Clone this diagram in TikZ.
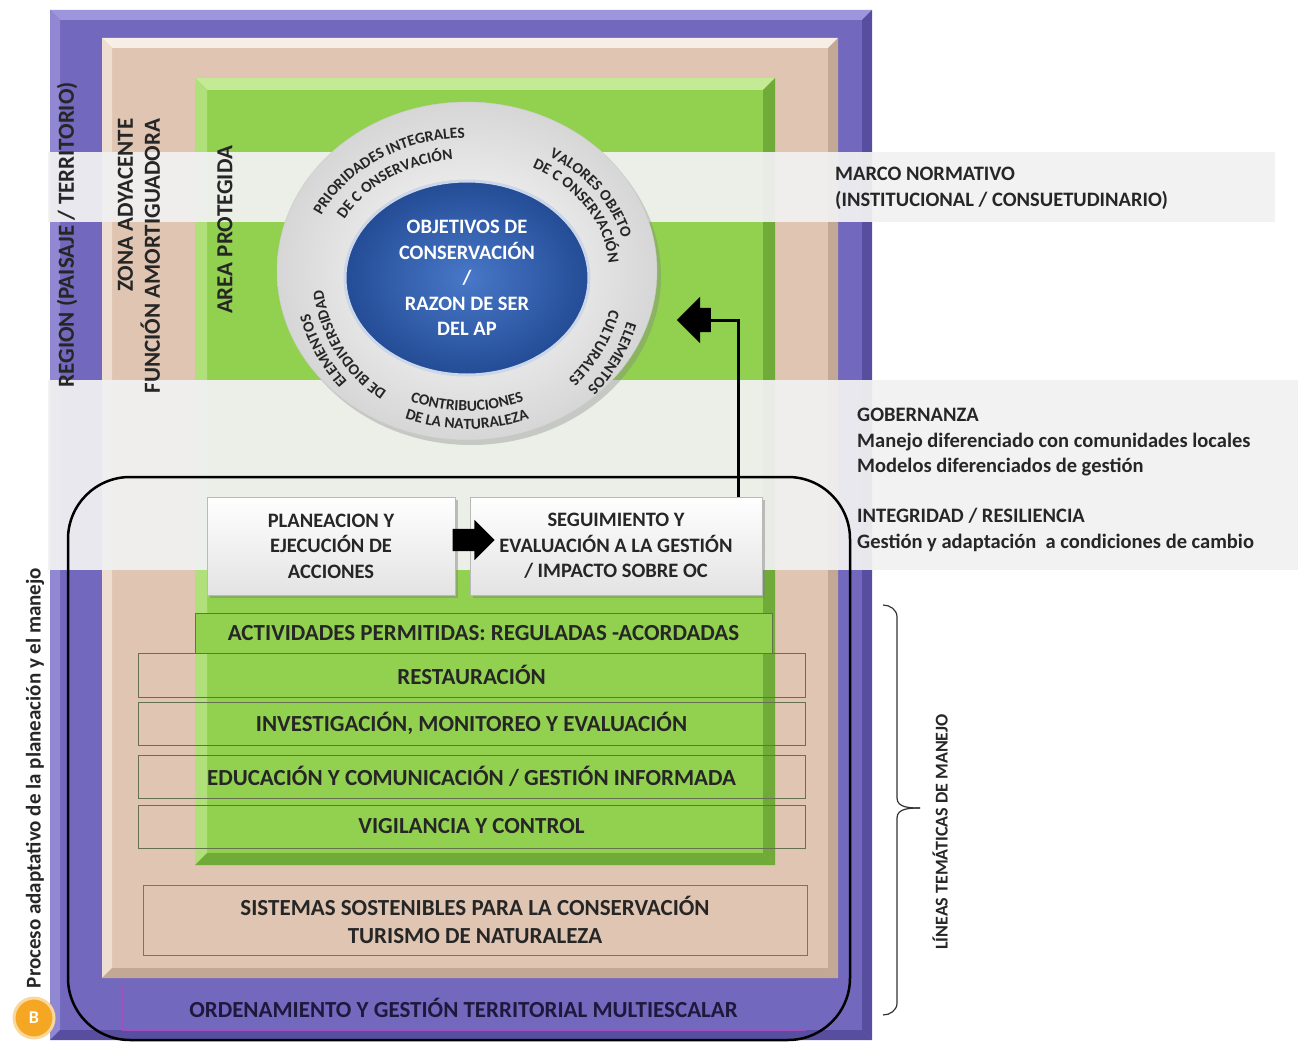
\documentclass[tikz,border=0pt]{standalone}
\usepackage{fontspec}
\setmainfont{Carlito}
\usepackage{tikz}
\usetikzlibrary{arrows.meta,positioning,shapes.geometric,shapes.arrows,shadows,decorations.text,calc}

\definecolor{apRegion}{RGB}{114,104,190}
\definecolor{apRegionLt}{RGB}{158,150,220}
\definecolor{apRegionDk}{RGB}{88,78,160}
\definecolor{apZona}{RGB}{223,197,178}
\definecolor{apZonaLt}{RGB}{247,238,230}
\definecolor{apZonaDk}{RGB}{196,168,150}
\definecolor{apGreen}{RGB}{146,208,80}
\definecolor{apGreenLt}{RGB}{196,234,150}
\definecolor{apGreenDk}{RGB}{112,170,56}
\definecolor{apBand}{RGB}{241,241,241}
\definecolor{apBlue}{RGB}{47,90,165}
\definecolor{apText}{RGB}{38,38,38}
\definecolor{apRowLine}{RGB}{100,112,78}
\definecolor{apPurpleLine}{RGB}{160,80,190}
\definecolor{apOrange}{RGB}{245,166,35}

\newcommand{\lblfont}{\fontsize{20.5}{25.5}\selectfont\bfseries}
\newcommand{\framefont}{\fontsize{23}{27}\selectfont\bfseries}
\newcommand{\rowfont}{\fontsize{23}{28}\selectfont\bfseries}
\newcommand{\ringfont}{\fontsize{15.5}{17}\selectfont\bfseries}
\newcommand{\procfont}{\fontsize{18}{20}\selectfont\bfseries}

% text on the ring: start angle, end angle, x radius, y radius, text
\newcommand{\ringtext}[5]{%
  \path[decorate, decoration={text along path, text align=center,
      text={|\ringfont\color{apText}|#5}}]
    (oc) ++(#1:#3 and #4) arc[start angle=#1, end angle=#2, x radius=#3, y radius=#4];}

\tikzset{
    bandfill/.style={fill=apBand, fill opacity=0.94},
    framelabel/.style={rotate=90, font=\framefont, text=apText, align=right, inner sep=0pt},
    sidetext/.style={font=\lblfont, text=apText, align=left, inner sep=0pt},
    stepbox/.style={draw=gray!55, line width=1pt, top color=white, bottom color=gray!22, minimum height=98pt, align=center, font=\lblfont, text=apText, drop shadow={shadow xshift=3pt, shadow yshift=-3pt, opacity=0.45}},
    themerow/.style={rectangle, draw=apRowLine, line width=0.8pt, font=\rowfont, text=apText, inner sep=0pt, align=center},
    blockarrow/.style={single arrow, fill=black, inner xsep=0pt, single arrow head indent=0pt},
    feedback/.style={line width=3pt, black},
    bracket/.style={line width=1.2pt, gray!40!black}
}

\begin{document}
\begin{tikzpicture}[x=1pt,y=1pt]
    \useasboundingbox (0,0) rectangle (1298,-1046);

    % Region frame
    \fill[apRegion] (50,-10) rectangle (872,-1040);
    \fill[apRegionLt] (50,-10) -- (872,-10) -- (862,-20) -- (60,-20) -- cycle;
    \fill[apRegionLt!70!apRegion] (50,-10) -- (60,-20) -- (60,-1030) -- (50,-1040) -- cycle;
    \fill[apRegionDk] (872,-10) -- (872,-1040) -- (862,-1030) -- (862,-20) -- cycle;
    \fill[apRegionDk] (50,-1040) -- (872,-1040) -- (862,-1030) -- (60,-1030) -- cycle;

    % Buffer zone frame
    \fill[apZona] (102,-38) rectangle (838,-978);
    \fill[apZonaLt] (102,-38) -- (838,-38) -- (828,-48) -- (112,-48) -- cycle;
    \fill[apZonaLt!60!apZona] (102,-38) -- (112,-48) -- (112,-968) -- (102,-978) -- cycle;
    \fill[apZonaDk] (838,-38) -- (838,-978) -- (828,-968) -- (828,-48) -- cycle;
    \fill[apZonaDk] (102,-978) -- (838,-978) -- (828,-968) -- (112,-968) -- cycle;

    % Protected area
    \fill[apGreen] (195,-78) rectangle (775,-865);
    \fill[apGreenLt] (195,-78) -- (775,-78) -- (763,-90) -- (207,-90) -- cycle;
    \fill[apGreenLt!60!apGreen] (195,-78) -- (207,-90) -- (207,-853) -- (195,-865) -- cycle;
    \fill[apGreenDk] (775,-78) -- (775,-865) -- (763,-853) -- (763,-90) -- cycle;
    \fill[apGreenDk] (195,-865) -- (775,-865) -- (763,-853) -- (207,-853) -- cycle;

    % Light bands
    \fill[bandfill] (48,-152) rectangle (1275,-222);
    \fill[bandfill] (48,-380) rectangle (1298,-570);

    % Frame labels
    \node[framelabel] (region) at (67,-235) {REGION (PAISAJE / TERRITORIO)};
    \node[framelabel] (zona) at (139,-256) {ZONA ADYACENTE\\FUNCIÓN AMORTIGUADORA};
    \node[framelabel] (area) at (225,-230) {AREA PROTEGIDA};

    % Ring and core
    \coordinate (oc) at (467,-271);
    \node[ellipse, minimum width=380, minimum height=338, inner color=white, outer color=gray!32, draw=gray!40, drop shadow={shadow xshift=4pt, shadow yshift=-5pt, opacity=0.35}] (ring) at (oc) {};
    \node[ellipse, minimum width=244, minimum height=194, inner sep=0pt, inner color={rgb,255:red,72;green,120;blue,200}, outer color={rgb,255:red,36;green,76;blue,150}, draw=apBlue!25!white, line width=3pt, font=\lblfont, text=white, align=center] (core) at (467,-278) {OBJETIVOS DE\\CONSERVACIÓN\\/\\RAZON DE SER\\DEL AP};

    \ringtext{196}{56}{160}{133}{PRIORIDADES INTEGRALES}
    \ringtext{198}{58}{138}{112}{DE C ONSERVACIÓN}
    \ringtext{103}{-37}{160}{133}{VALORES OBJETO}
    \ringtext{100}{-40}{142}{116}{DE C ONSERVACIÓN}
    \ringtext{39}{-101}{168}{168}{ELEMENTOS}
    \ringtext{39}{-101}{148}{148}{CULTURALES}
    \ringtext{269}{149}{163}{163}{ELEMENTOS}
    \ringtext{272}{152}{145}{145}{DE BIODIVERSIDAD}
    \ringtext{200}{340}{155}{140}{CONTRIBUCIONES}
    \ringtext{200}{340}{175}{158}{DE LA NATURALEZA}

    % Side texts
    \node[sidetext, anchor=north west] (marco) at (835,-167) {MARCO NORMATIVO\\(INSTITUCIONAL / CONSUETUDINARIO)};
    \node[sidetext, anchor=north west] (gobernanza) at (857,-408) {GOBERNANZA\\Manejo diferenciado con comunidades locales\\Modelos diferenciados de gestión};
    \node[sidetext, anchor=north west] (integridad) at (857,-508) {INTEGRIDAD / RESILIENCIA\\Gestión y adaptación\ \ a condiciones de cambio};

    % Adaptive cycle
    \draw[line width=2.5pt, rounded corners=62pt] (68,-477) rectangle (850,-1040);

    % Thematic lines
    \node[themerow, fill=apGreen, minimum width=577, minimum height=40] (permitidas) at (483.5,-633) {ACTIVIDADES PERMITIDAS: REGULADAS -ACORDADAS};
    \node[themerow, minimum width=667, minimum height=44] (restauracion) at (471.5,-675) {RESTAURACIÓN};
    \node[themerow, minimum width=667, minimum height=43] (investigacion) at (471.5,-723.5) {INVESTIGACIÓN, MONITOREO Y EVALUACIÓN};
    \node[themerow, minimum width=667, minimum height=43] (educacion) at (471.5,-776.5) {EDUCACIÓN Y COMUNICACIÓN / GESTIÓN INFORMADA};
    \node[themerow, minimum width=667, minimum height=43] (vigilancia) at (471.5,-826.5) {VIGILANCIA Y CONTROL};
    \node[themerow, draw=apPurpleLine, fill=apZona, minimum width=664, minimum height=70] (sistemas) at (475,-920) {SISTEMAS SOSTENIBLES PARA LA CONSERVACIÓN\\TURISMO DE NATURALEZA};
    \node[themerow, draw=apPurpleLine, fill=apRegion, minimum width=683, minimum height=45, text={rgb,255:red,30;green,25;blue,60}] (ordenamiento) at (463.5,-1007.5) {ORDENAMIENTO Y GESTIÓN TERRITORIAL MULTIESCALAR};

    % Steps
    \node[stepbox, minimum width=248] (plan) at (331,-546) {PLANEACION Y\\EJECUCIÓN DE\\ACCIONES};
    \node[stepbox, minimum width=292] (seg) at (616,-546) {SEGUIMIENTO Y\\EVALUACIÓN A LA GESTIÓN\\/ IMPACTO SOBRE OC};
    \node[blockarrow, minimum height=42, inner ysep=11pt, single arrow head extend=9pt] (avance) at (468,-540) {};
    \node[blockarrow, minimum height=34, inner ysep=12pt, single arrow head extend=11pt, shape border rotate=180] (retro) at (700,-320) {};
    \draw[feedback] ($(seg.north east)+(-24,0)$) |- (retro.tail);

    % Brace and labels
    \coordinate (llavetop) at (883,-605);
    \coordinate (llavebot) at (883,-1015);
    \coordinate (llavetip) at (920,-808);
    \draw[bracket] (llavetop) to[out=0,in=90] ++(14,-12) -- ++(0,-181) to[out=-90,in=180] (llavetip);
    \draw[bracket] (llavebot) to[out=0,in=-90] ++(14,12) -- ++(0,185) to[out=90,in=180] (llavetip);
    \node[rotate=90, font=\procfont, text=apText] (lineas) at (940,-832) {LÍNEAS TEMÁTICAS DE MANEJO};
    \node[rotate=90, font=\fontsize{21}{23}\selectfont\bfseries, text=apText] (proceso) at (35,-778) {Proceso adaptativo de la planeación y el manejo};
    \node[circle, fill=apOrange, draw=apOrange!45!white, line width=3pt, minimum size=40pt, inner sep=0pt, font=\fontsize{18}{18}\selectfont\bfseries, text=white] (paso) at (34,-1018) {B};
\end{tikzpicture}
\end{document}
